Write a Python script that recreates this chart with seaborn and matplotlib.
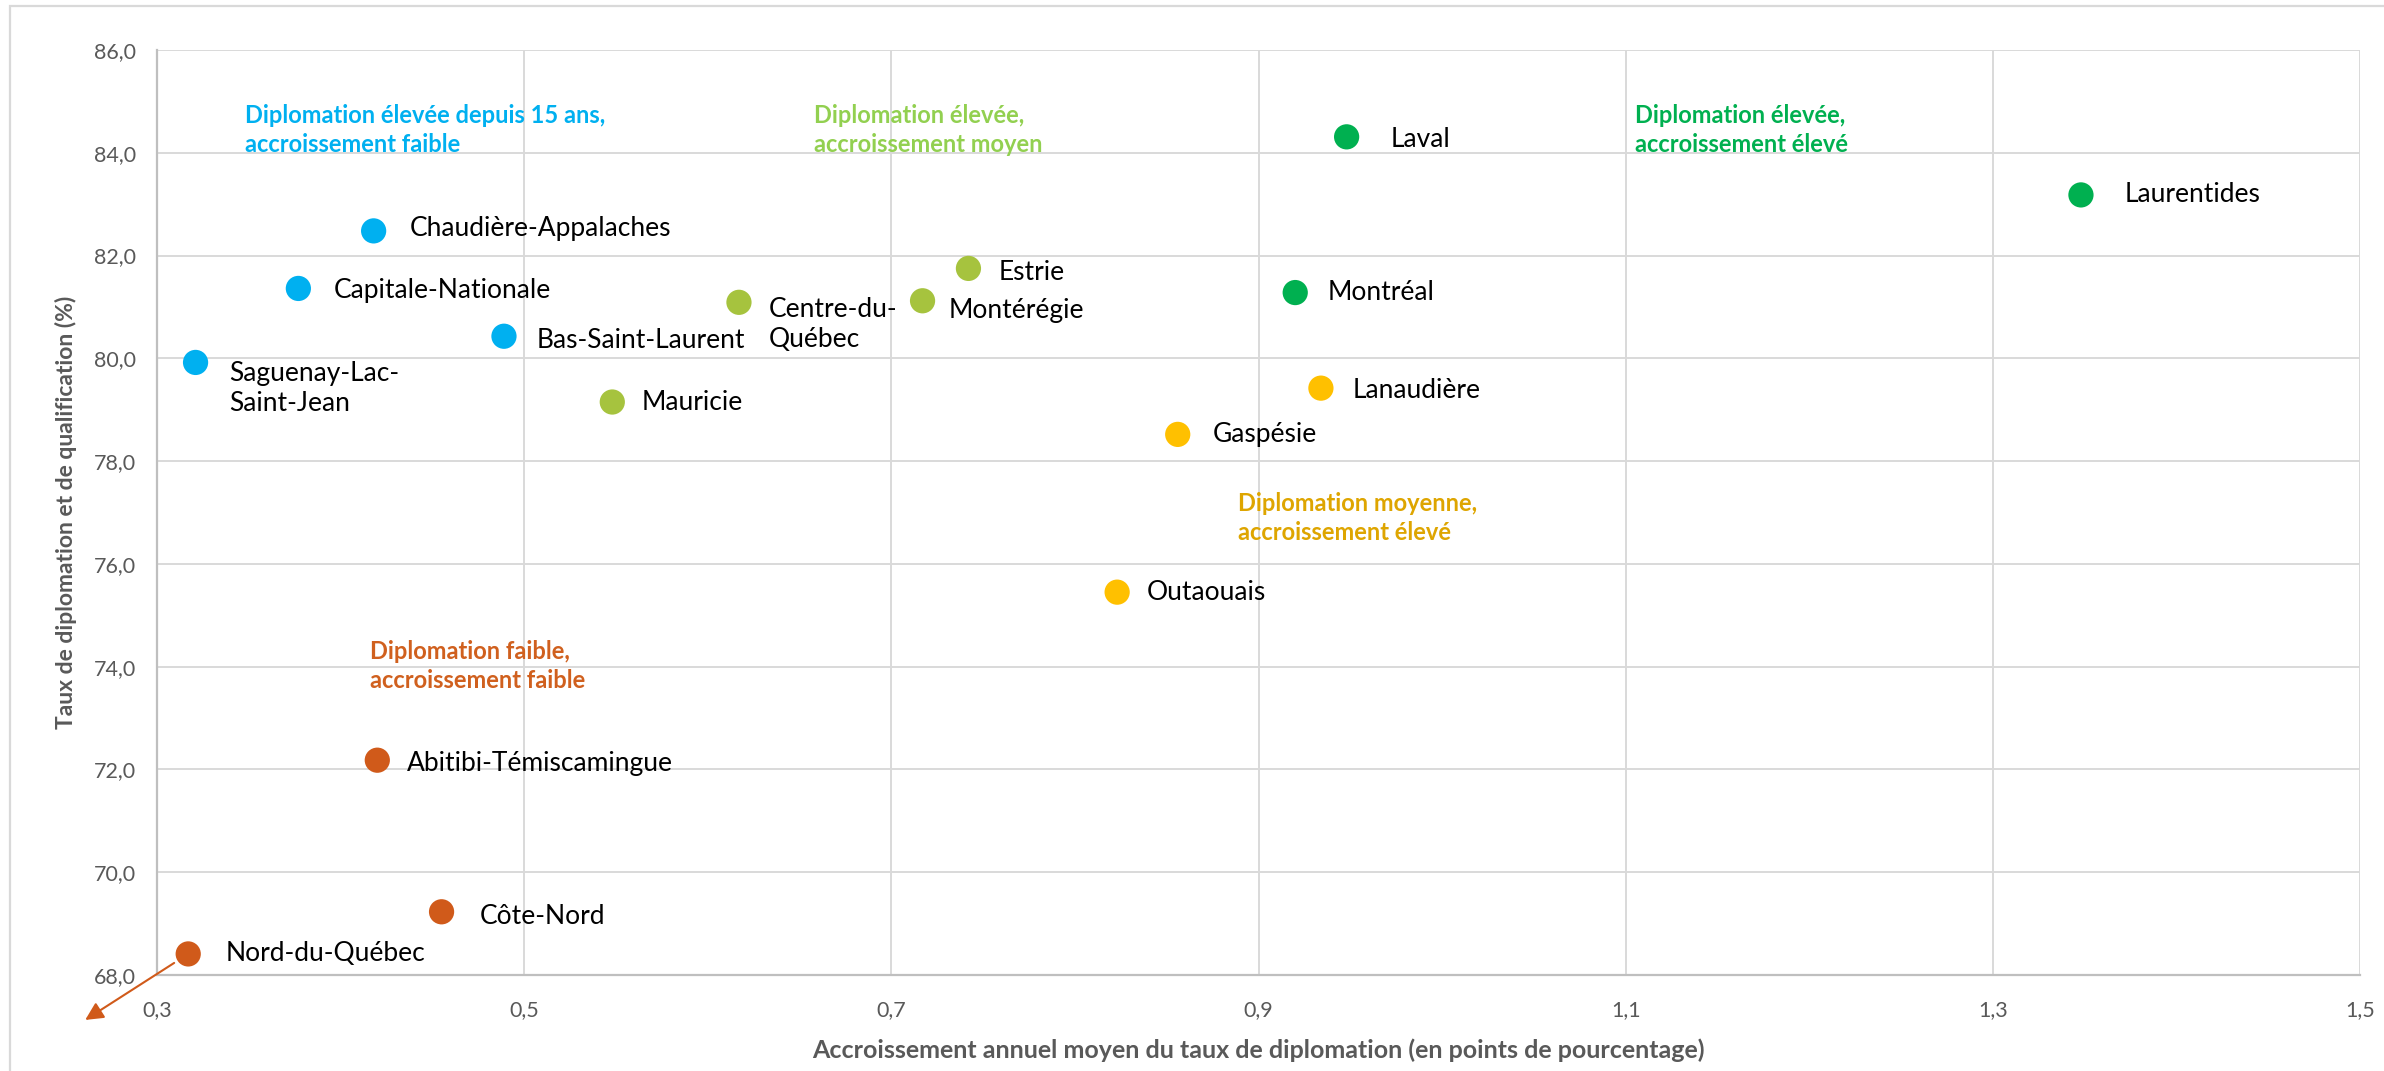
import matplotlib
matplotlib.use("Agg")
import matplotlib.pyplot as plt
import matplotlib.transforms as mtransforms
from matplotlib.patches import Rectangle
from matplotlib.ticker import FuncFormatter, FixedLocator
import seaborn as sns
import pandas as pd

# ---------------- data ----------------
regions = ["Saguenay-Lac-\nSaint-Jean", "Capitale-Nationale", "Chaudière-Appalaches",
           "Bas-Saint-Laurent", "Mauricie", "Centre-du-\nQuébec", "Montérégie", "Estrie",
           "Laval", "Laurentides", "Montréal", "Lanaudière", "Gaspésie", "Outaouais",
           "Abitibi-Témiscamingue", "Côte-Nord", "Nord-du-Québec"]
accroissement = [0.321, 0.377, 0.418, 0.489, 0.548, 0.617, 0.717, 0.742,
                 0.948, 1.348, 0.920, 0.934, 0.856, 0.823,
                 0.420, 0.455, 0.317]
taux = [79.92, 81.36, 82.48, 80.43, 79.15, 81.09, 81.12, 81.75,
        84.31, 83.18, 81.28, 79.42, 78.52, 75.45,
        72.18, 69.23, 68.41]
groupe = ["bleu", "bleu", "bleu", "bleu", "vert_clair", "vert_clair", "vert_clair", "vert_clair",
          "vert", "vert", "vert", "or", "or", "or",
          "orange", "orange", "orange"]

group_names = ["bleu", "vert_clair", "vert", "or", "orange"]
group_texts = ["Diplomation élevée depuis 15 ans,\naccroissement faible",
               "Diplomation élevée,\naccroissement moyen",
               "Diplomation élevée,\naccroissement élevé",
               "Diplomation moyenne,\naccroissement élevé",
               "Diplomation faible,\naccroissement faible"]

x_ticks = [0.3, 0.5, 0.7, 0.9, 1.1, 1.3, 1.5]
y_ticks = [68, 70, 72, 74, 76, 78, 80, 82, 84, 86]

x_title = "Accroissement annuel moyen du taux de diplomation (en points de pourcentage)"
y_title = "Taux de diplomation et de qualification (%)"

# ---------------- styles ----------------
dot_colors = {"bleu": "#00B0F0", "vert_clair": "#A6C33E", "vert": "#00B050",
              "or": "#FFC000", "orange": "#D05A1A"}
text_colors = {"bleu": "#00B0F0", "vert_clair": "#92D050", "vert": "#00B050",
               "or": "#DEA500", "orange": "#D0601E"}
# positions of group captions (left x, vertical centre of the two lines), data units
caption_pos = {"bleu": (0.348, 84.44), "vert_clair": (0.658, 84.44), "vert": (1.105, 84.44),
               "or": (0.889, 76.89), "orange": (0.416, 74.01)}
# label offsets in pixels (right, down)
label_offsets = [(34, 26), (35, 2), (36, -2), (33, 4), (29, 0), (30, 22), (26, 10), (30, 4),
                 (44, 3), (44, 0), (32, 0), (32, 2), (35, 0), (30, 0),
                 (30, 3), (38, 5), (37, 0)]

sns.set_theme(style="white")
plt.rcParams["font.family"] = ["Lato", "DejaVu Sans"]

W, H = 2384, 1071
fig = plt.figure(figsize=(W / 100, H / 100), dpi=100)
fig.patch.set_facecolor("white")
ax = fig.add_axes([157 / W, 1 - 975 / H, (2360 - 157) / W, (975 - 50) / H])

df = pd.DataFrame({"region": regions, "x": accroissement, "y": taux, "groupe": groupe})
sns.scatterplot(data=df, x="x", y="y", hue="groupe", palette=dot_colors, s=330,
                edgecolor="none", linewidth=0, legend=False, ax=ax, zorder=3, clip_on=False)

ax.set_xlim(0.3, 1.5)
ax.set_ylim(68, 86)
ax.xaxis.set_major_locator(FixedLocator(x_ticks))
ax.yaxis.set_major_locator(FixedLocator(y_ticks))
ax.xaxis.set_major_formatter(FuncFormatter(lambda v, p: f"{v:.1f}".replace(".", ",")))
ax.yaxis.set_major_formatter(FuncFormatter(lambda v, p: f"{v:.1f}".replace(".", ",")))
ax.grid(True, color="#D9D9D9", linewidth=1.4)
ax.set_axisbelow(True)
for side in ["top", "right"]:
    ax.spines[side].set_visible(False)
for side in ["left", "bottom"]:
    ax.spines[side].set_color("#BFBFBF")
    ax.spines[side].set_linewidth(1.6)
ax.tick_params(axis="both", length=0, labelsize=15.5, labelcolor="#595959")
ax.tick_params(axis="y", pad=15)
ax.tick_params(axis="x", pad=18)

ax.set_xlabel(x_title, fontsize=18, fontweight="bold", color="#595959", va="center")
ax.set_ylabel(y_title, fontsize=16.5, fontweight="bold", color="#595959", va="center")
ax.xaxis.set_label_coords(0.5, -(1050 - 975) / (975 - 50))
ax.yaxis.set_label_coords(-(157 - 66) / (2360 - 157), 0.5)

# point labels
for name, xv, yv, (dx, dy) in zip(regions, accroissement, taux, label_offsets):
    ax.annotate(name, xy=(xv, yv), xytext=(dx * 0.72, -dy * 0.72), textcoords="offset points",
                ha="left", va="center", fontsize=19, color="black", linespacing=1.25,
                annotation_clip=False)

# group captions
for g, txt in zip(group_names, group_texts):
    cx, cy = caption_pos[g]
    ax.text(cx, cy, txt, ha="left", va="center", fontsize=17, fontweight="bold",
            color=text_colors[g], linespacing=1.3)

# arrow from Nord-du-Québec point toward lower-left
i_nord = regions.index("Nord-du-Québec")
nx, ny = accroissement[i_nord], taux[i_nord]
tip_tr = mtransforms.offset_copy(ax.transData, fig=fig, x=-103, y=-66, units="dots")
ax.annotate("", xy=(nx, ny), xycoords=tip_tr, xytext=(nx, ny), textcoords="data",
            arrowprops=dict(arrowstyle="-|>,head_length=0.9,head_width=0.45",
                            color=dot_colors["orange"], lw=1.5, shrinkA=12, shrinkB=0),
            annotation_clip=False)

# chart border
fig.patches.append(Rectangle((10 / W, -0.05), 1.2, 1 - 5.7 / H + 0.05, transform=fig.transFigure,
                             fill=False, edgecolor="#D9D9D9", linewidth=1.6))

fig.savefig("out.png", dpi=100, facecolor="white")
